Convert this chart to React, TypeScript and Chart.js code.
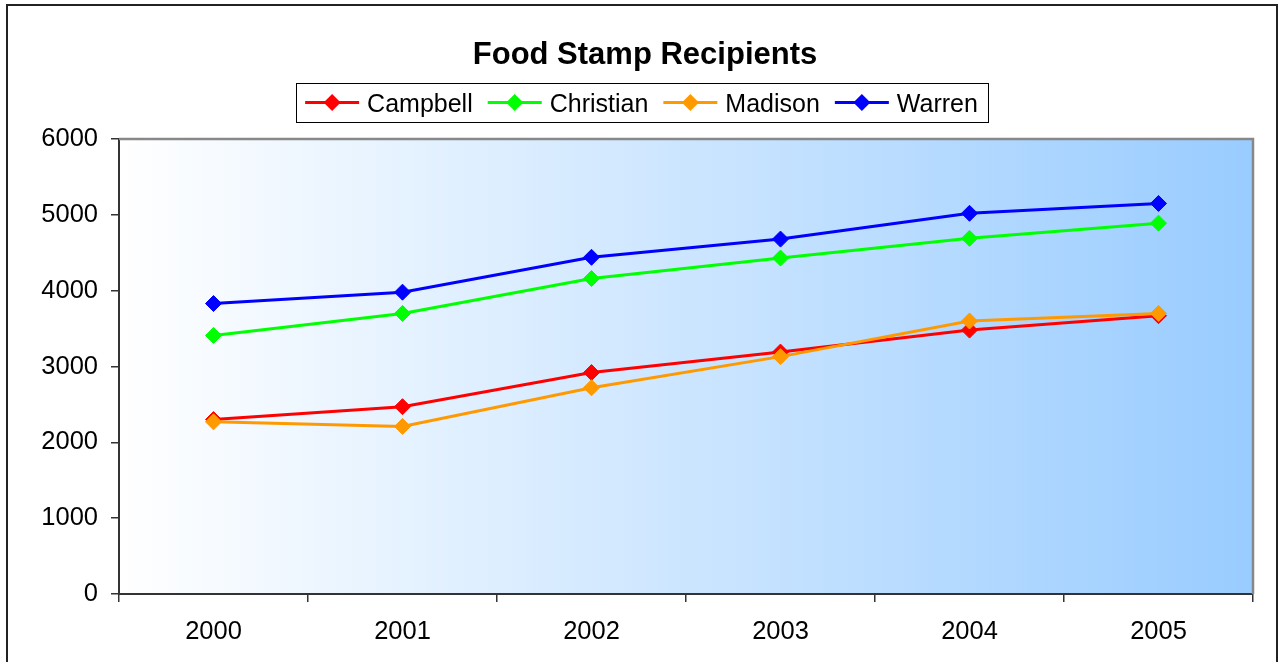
import React, { useEffect, useRef } from "react";
import { Chart, registerables } from "chart.js";

Chart.register(...registerables);

const years = ["2000", "2001", "2002", "2003", "2004", "2005"];
const campbell = [2300, 2470, 2920, 3190, 3480, 3670];
const christian = [3410, 3700, 4160, 4430, 4690, 4890];
const madison = [2270, 2210, 2720, 3130, 3600, 3700];
const warren = [3830, 3980, 4440, 4680, 5020, 5150];
const seriesNames = ["Campbell", "Christian", "Madison", "Warren"];
const seriesColors = ["#FF0000", "#00FF00", "#FF9900", "#0000FF"];
const titleText = "Food Stamp Recipients";

const FONT = "'Liberation Sans', Arial, sans-serif";

const decorPlugin = {
  id: "decor",
  beforeDraw(chart: any) {
    const { ctx, chartArea: a } = chart;
    ctx.save();
    ctx.fillStyle = "#FFFFFF";
    ctx.fillRect(0, 0, chart.width, chart.height);
    const g = ctx.createLinearGradient(a.left, 0, a.right, 0);
    g.addColorStop(0, "#FFFFFF");
    g.addColorStop(1, "#99CCFF");
    ctx.fillStyle = g;
    ctx.fillRect(a.left, a.top, a.right - a.left, a.bottom - a.top);
    ctx.restore();
  },
  afterDraw(chart: any) {
    const { ctx, chartArea: a } = chart;
    ctx.save();
    // plot border top/right
    ctx.strokeStyle = "#888888";
    ctx.lineWidth = 2.5;
    ctx.beginPath();
    ctx.moveTo(a.left, a.top);
    ctx.lineTo(a.right, a.top);
    ctx.lineTo(a.right, a.bottom);
    ctx.stroke();
    // outer border
    ctx.strokeStyle = "#222222";
    ctx.lineWidth = 2;
    ctx.strokeRect(7, 5, 1270, 680);
    // title
    const cx = 642;
    ctx.fillStyle = "#000000";
    ctx.font = `bold 31px ${FONT}`;
    ctx.textAlign = "center";
    ctx.textBaseline = "alphabetic";
    ctx.fillText(titleText, 645, 64);
    // legend
    ctx.font = `25px ${FONT}`;
    const lineLen = 54, gap = 8, itemGap = 15, padL = 9, padR = 10;
    const widths = seriesNames.map((n) => ctx.measureText(n).width);
    let total = padL + padR;
    widths.forEach((w, i) => {
      total += lineLen + gap + w + (i < widths.length - 1 ? itemGap : 0);
    });
    const boxL = cx - total / 2;
    const boxT = 83, boxB = 122;
    ctx.strokeStyle = "#000000";
    ctx.lineWidth = 1;
    ctx.strokeRect(Math.round(boxL) + 0.5, boxT + 0.5, Math.round(total), boxB - boxT);
    let x = boxL + padL;
    const ly = 102.5;
    ctx.textAlign = "left";
    seriesNames.forEach((n, i) => {
      ctx.strokeStyle = seriesColors[i];
      ctx.lineWidth = 3;
      ctx.beginPath();
      ctx.moveTo(x, ly);
      ctx.lineTo(x + lineLen, ly);
      ctx.stroke();
      const mx = x + lineLen / 2;
      ctx.fillStyle = seriesColors[i];
      ctx.beginPath();
      ctx.moveTo(mx - 8.5, ly);
      ctx.lineTo(mx, ly - 8.5);
      ctx.lineTo(mx + 8.5, ly);
      ctx.lineTo(mx, ly + 8.5);
      ctx.closePath();
      ctx.fill();
      ctx.fillStyle = "#000000";
      ctx.fillText(n, x + lineLen + gap, 112);
      x += lineLen + gap + widths[i] + itemGap;
    });
    ctx.restore();
  },
};

export default function App() {
  const ref = useRef<HTMLCanvasElement | null>(null);
  useEffect(() => {
    if (!ref.current) return;
    const all = [campbell, christian, madison, warren];
    const chart = new Chart(ref.current, {
      type: "line",
      data: {
        labels: years,
        datasets: all.map((d, i) => ({
          label: seriesNames[i],
          data: d,
          borderColor: seriesColors[i],
          backgroundColor: seriesColors[i],
          pointBackgroundColor: seriesColors[i],
          pointBorderColor: seriesColors[i],
          borderWidth: 3,
          pointStyle: "rectRot",
          pointRadius: 8,
          pointBorderWidth: 1,
          tension: 0,
          order: 4 - i,
        })),
      },
      options: {
        responsive: false,
        animation: false,
        devicePixelRatio: 1,
        layout: { padding: { top: 139, right: 27, bottom: 0, left: 0 } },
        plugins: {
          legend: { display: false },
          title: { display: false },
          tooltip: { enabled: false },
        },
        scales: {
          x: {
            type: "category",
            offset: true,
            afterFit: (s: any) => {
              s.height = 68;
            },
            grid: {
              offset: true,
              drawOnChartArea: false,
              drawTicks: true,
              tickLength: 8,
              color: "#333333",
              lineWidth: 1.5,
            },
            border: { display: true, color: "#333333", width: 2 },
            ticks: {
              color: "#000000",
              font: { family: FONT, size: 25.5 },
              padding: 15,
              maxRotation: 0,
            },
          },
          y: {
            min: 0,
            max: 6000,
            afterFit: (s: any) => {
              s.width = 119;
            },
            grid: {
              drawOnChartArea: false,
              drawTicks: true,
              tickLength: 8,
              color: "#333333",
              lineWidth: 1.5,
            },
            border: { display: true, color: "#333333", width: 2 },
            ticks: {
              stepSize: 1000,
              color: "#000000",
              font: { family: FONT, size: 25.5 },
              padding: 13,
              callback: (v: any) => String(v),
            },
          },
        },
      },
      plugins: [decorPlugin],
    });
    return () => chart.destroy();
  }, []);
  return (
    <div style={{ position: "absolute", left: 0, top: 0, width: 1280, height: 662 }}>
      <canvas ref={ref} width={1280} height={662} style={{ display: "block" }} />
    </div>
  );
}
